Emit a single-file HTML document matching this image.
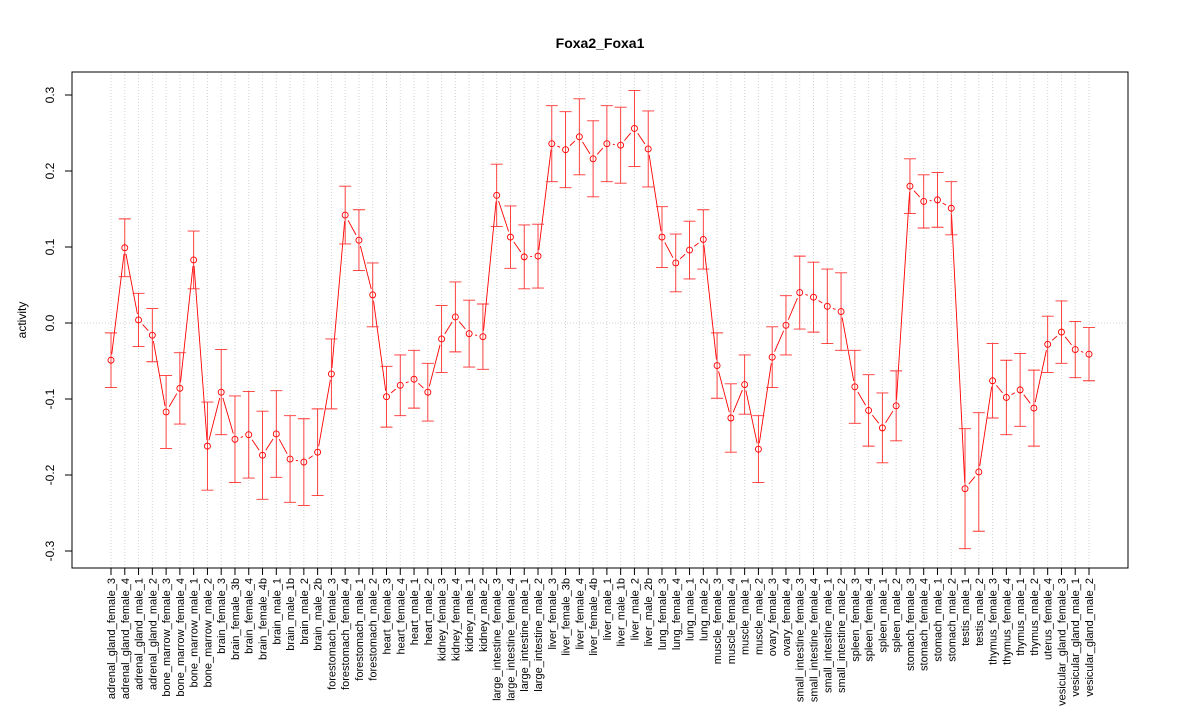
<!DOCTYPE html>
<html><head><meta charset="utf-8"><style>
body{margin:0;background:#fff;}
svg{display:block;font-family:"Liberation Sans",Arial,sans-serif;}
</style></head><body>
<svg id="chart" width="1200" height="720">
<text x="600" y="48" text-anchor="middle" font-size="14" font-weight="bold">Foxa2_Foxa1</text>
<text transform="translate(26,320) rotate(-90)" text-anchor="middle" font-size="12">activity</text>
<g id="grid"></g><g id="yaxis"></g><g id="xaxis"></g><g id="series"></g>
<rect x="72" y="72" width="1056" height="496" fill="none" stroke="#000"/>
</svg>
<script>
const categories=["adrenal_gland_female_3","adrenal_gland_female_4","adrenal_gland_male_1","adrenal_gland_male_2","bone_marrow_female_3","bone_marrow_female_4","bone_marrow_male_1","bone_marrow_male_2","brain_female_3","brain_female_3b","brain_female_4","brain_female_4b","brain_male_1","brain_male_1b","brain_male_2","brain_male_2b","forestomach_female_3","forestomach_female_4","forestomach_male_1","forestomach_male_2","heart_female_3","heart_female_4","heart_male_1","heart_male_2","kidney_female_3","kidney_female_4","kidney_male_1","kidney_male_2","large_intestine_female_3","large_intestine_female_4","large_intestine_male_1","large_intestine_male_2","liver_female_3","liver_female_3b","liver_female_4","liver_female_4b","liver_male_1","liver_male_1b","liver_male_2","liver_male_2b","lung_female_3","lung_female_4","lung_male_1","lung_male_2","muscle_female_3","muscle_female_4","muscle_male_1","muscle_male_2","ovary_female_3","ovary_female_4","small_intestine_female_3","small_intestine_female_4","small_intestine_male_1","small_intestine_male_2","spleen_female_3","spleen_female_4","spleen_male_1","spleen_male_2","stomach_female_3","stomach_female_4","stomach_male_1","stomach_male_2","testis_male_1","testis_male_2","thymus_female_3","thymus_female_4","thymus_male_1","thymus_male_2","uterus_female_4","vesicular_gland_female_3","vesicular_gland_male_1","vesicular_gland_male_2"];
const values=[-0.049,0.099,0.004,-0.016,-0.117,-0.086,0.083,-0.162,-0.091,-0.153,-0.147,-0.174,-0.146,-0.179,-0.183,-0.170,-0.067,0.142,0.109,0.037,-0.097,-0.082,-0.074,-0.091,-0.021,0.008,-0.014,-0.018,0.168,0.113,0.087,0.088,0.236,0.228,0.245,0.216,0.236,0.234,0.256,0.229,0.113,0.079,0.096,0.110,-0.056,-0.125,-0.081,-0.166,-0.045,-0.003,0.040,0.034,0.022,0.015,-0.084,-0.115,-0.138,-0.109,0.180,0.160,0.162,0.151,-0.218,-0.196,-0.076,-0.098,-0.088,-0.112,-0.028,-0.012,-0.035,-0.041];
const errors=[0.036,0.038,0.035,0.035,0.048,0.047,0.038,0.058,0.056,0.057,0.057,0.058,0.057,0.057,0.057,0.057,0.046,0.038,0.04,0.042,0.04,0.04,0.038,0.038,0.044,0.046,0.044,0.043,0.041,0.041,0.042,0.042,0.05,0.05,0.05,0.05,0.05,0.05,0.05,0.05,0.04,0.038,0.038,0.039,0.043,0.045,0.039,0.044,0.04,0.039,0.048,0.046,0.049,0.051,0.048,0.047,0.046,0.046,0.036,0.035,0.036,0.035,0.079,0.078,0.049,0.049,0.048,0.05,0.037,0.041,0.037,0.035];
const yTicks=[-0.3,-0.2,-0.1,0.0,0.1,0.2,0.3];
const yTickLabels=["-0.3","-0.2","-0.1","0.0","0.1","0.2","0.3"];
const NS="http://www.w3.org/2000/svg";
const xS=i=>111+i*(1089-111)/(categories.length-1);
const yS=v=>323-v*760;
function mk(tag,attrs,parent){const e=document.createElementNS(NS,tag);for(const k in attrs)e.setAttribute(k,attrs[k]);parent.appendChild(e);return e;}
const grid=document.getElementById('grid'),ya=document.getElementById('yaxis'),xa=document.getElementById('xaxis'),se=document.getElementById('series');
categories.forEach((c,i)=>{
 const g=mk('line',{x1:xS(i),x2:xS(i),y1:72,y2:568,stroke:'#d3d3d3','stroke-dasharray':'1,2'},grid);
 
 
 const t=mk('line',{x1:xS(i),x2:xS(i),y1:568,y2:575,stroke:'#000'},xa);
 
 
 const l=mk('text',{transform:`translate(${xS(i)+4},578) rotate(-90)`,'text-anchor':'end','font-size':'11'},xa);
 l.textContent=c;
 
 
});
const zl=mk('line',{x1:72,x2:1128,y1:yS(0),y2:yS(0),stroke:'#d3d3d3','stroke-dasharray':'1,2'},grid);


mk('line',{x1:72,x2:72,y1:yS(0.3),y2:yS(-0.3),stroke:'#000'},ya);
yTicks.forEach((v,i)=>{
 const t=mk('line',{x1:65,x2:72,y1:yS(v),y2:yS(v),stroke:'#000'},ya);
 
 
 const l=mk('text',{transform:`translate(54,${yS(v)}) rotate(-90)`,'text-anchor':'middle','font-size':'12'},ya);
 l.textContent=yTickLabels[i];
 
 
});
const r=3,gap=6;
for(let i=0;i<values.length-1;i++){
 const x1=xS(i),y1=yS(values[i]),x2=xS(i+1),y2=yS(values[i+1]);
 const d=Math.hypot(x2-x1,y2-y1);if(d<2*gap+1)continue;
 const ux=(x2-x1)/d,uy=(y2-y1)/d;
 const s=mk('line',{x1:x1+ux*gap,y1:y1+uy*gap,x2:x2-ux*gap,y2:y2-uy*gap,stroke:'#ff0000','stroke-width':'0.9'},se);
 
 
}
values.forEach((v,i)=>{
 const x=xS(i),e=errors[i];
 const eb=mk('path',{d:`M${x},${yS(v+e)}V${yS(v-e)}M${x-6},${yS(v+e)}H${x+6}M${x-6},${yS(v-e)}H${x+6}`,stroke:'#ff3030',fill:'none','stroke-width':'0.9'},se);
 
 
 const p=mk('circle',{cx:x,cy:yS(v),r:r,fill:'none',stroke:'#ff0000','stroke-width':'0.9'},se);
 
 
});
</script>
</body></html>
